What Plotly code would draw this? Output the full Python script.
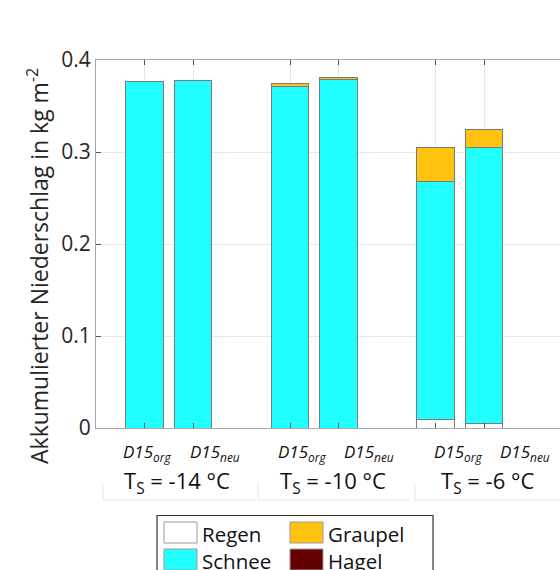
import plotly.graph_objects as go

# ---- data ----
positions = [1, 2, 4, 5, 7, 8]
tick_labels = ["<i>D15<sub>org</sub></i>", "<i>D15<sub>neu</sub></i>"] * 3
group_labels = ["T<sub>S</sub> = -14 °C", "T<sub>S</sub> = -10 °C", "T<sub>S</sub> = -6 °C"]
regen   = [0.0,   0.0,   0.0,   0.0,   0.009, 0.005]
schnee  = [0.377, 0.378, 0.371, 0.379, 0.259, 0.300]
graupel = [0.0,   0.0,   0.003, 0.002, 0.037, 0.020]
hagel   = [0.0,   0.0,   0.0,   0.0,   0.0,   0.0]
series_names = ["Regen", "Schnee", "Graupel", "Hagel"]
series_colors = ["#FFFFFF", "#22FFFF", "#FFC20E", "#650000"]

FONT = "Open Sans"
TXT = "#262626"

fig = go.Figure()
for name, vals, col in zip(series_names, [regen, schnee, graupel, hagel], series_colors):
    fig.add_trace(go.Bar(
        x=positions, y=vals, name=name, width=0.78,
        marker=dict(color=col, line=dict(color="#7a7a7a", width=1)),
        showlegend=False,
    ))

# plot area: x 96..560 px, y 60..428 px
L, R, T, B = 96, 560, 60, 428
W, H = R - L, B - T
def px(x):
    return (x - L) / W
def py(y):
    return (B - y) / H

fig.update_layout(
    barmode="stack",
    width=560, height=570,
    margin=dict(l=L, r=560 - R, t=T, b=570 - B),
    paper_bgcolor="white", plot_bgcolor="white",
    font=dict(family=FONT, color=TXT),
    xaxis=dict(
        range=[0, W / 48.5], tickvals=positions, showticklabels=False,
        showgrid=True, gridcolor="#e8e8e8",
        showline=True, linecolor="#a6a6a6", mirror="ticks",
        ticks="inside", ticklen=5, tickcolor="#555555", zeroline=False,
    ),
    yaxis=dict(
        range=[0, 0.4], tickvals=[0, 0.1, 0.2, 0.3, 0.4],
        ticktext=["0", "0.1", "0.2", "0.3", "0.4"],
        tickfont=dict(size=21, color=TXT), showgrid=True, gridcolor="#e8e8e8",
        showline=True, linecolor="#a6a6a6", mirror=False,
        ticks="inside", ticklen=5, tickcolor="#555555", zeroline=False,
    ),
)

# bar labels (slightly offset to the right of each bar, as in the reference)
label_px = [147, 215, 302, 369, 458, 525]
for lab, cx in zip(tick_labels, label_px):
    fig.add_annotation(text=lab, xref="paper", yref="paper", x=px(cx), y=py(452),
                       xanchor="center", yanchor="middle", showarrow=False,
                       font=dict(size=17, color="#111111", family=FONT))

# y-axis title
fig.add_annotation(
    text="Akkumulierter Niederschlag in kg m<sup>-2</sup>",
    xref="paper", yref="paper", x=px(38), y=py(266), textangle=-90,
    xanchor="center", yanchor="middle",
    showarrow=False, font=dict(size=23, color=TXT, family=FONT),
)

# group labels with faint frames
group_px = [177, 333, 487]
frames = [(103, 255), (258, 410), (415, 562)]
for lab, cx in zip(group_labels, group_px):
    fig.add_annotation(text=lab, xref="paper", yref="paper", x=px(cx), y=py(482),
                       xanchor="center", yanchor="middle",
                       showarrow=False, font=dict(size=22, color="#111111", family=FONT))
for (x0, x1) in frames:
    fig.add_shape(type="line", xref="paper", yref="paper", x0=px(x0), x1=px(x1),
                  y0=py(500), y1=py(500), line=dict(color="#e4e4e4", width=1))
    fig.add_shape(type="line", xref="paper", yref="paper", x0=px(x0), x1=px(x0),
                  y0=py(484), y1=py(500), line=dict(color="#e4e4e4", width=1))

# custom legend
fig.add_shape(type="rect", xref="paper", yref="paper", x0=px(157), x1=px(433),
              y0=py(515.5), y1=py(600), line=dict(color="#333333", width=1.2),
              fillcolor="white")
leg_items = [("Regen", series_colors[0], 164, 522), ("Graupel", series_colors[2], 290, 522),
             ("Schnee", series_colors[1], 164, 549), ("Hagel", series_colors[3], 290, 549)]
for name, col, x0, y0 in leg_items:
    fig.add_shape(type="rect", xref="paper", yref="paper", x0=px(x0), x1=px(x0 + 33),
                  y0=py(y0), y1=py(y0 + 21), line=dict(color="#9a9a9a", width=1),
                  fillcolor=col)
    fig.add_annotation(text=name, xref="paper", yref="paper", x=px(x0 + 36), y=py(y0 + 12),
                       xanchor="left", yanchor="middle", showarrow=False,
                       font=dict(size=20.5, color="#111111", family=FONT))

fig.write_html("out.html")
